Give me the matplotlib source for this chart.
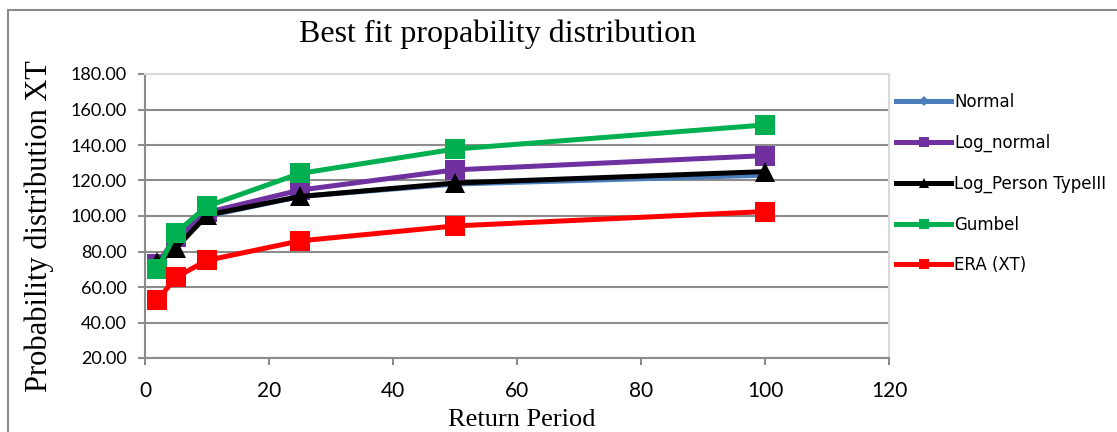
import matplotlib
matplotlib.use("Agg")
import matplotlib.pyplot as plt
from matplotlib.lines import Line2D
from matplotlib.patches import Rectangle
from matplotlib.ticker import FormatStrFormatter

# Return periods (years) and quantile estimates XT for each distribution
return_period = [2, 5, 10, 25, 50, 100]
normal = [74, 84, 100, 111, 118, 123]
log_normal = [73, 88, 102, 114.6, 126, 134]
log_pearson3 = [74, 82, 100.5, 111, 118.6, 125]
gumbel = [70, 90.5, 105.5, 124, 137.7, 151.3]
era_xt = [52.5, 65.5, 75, 86, 94.4, 102.5]

series_names = ["Normal", "Log_normal", "Log_Person TypeIII", "Gumbel", "ERA (XT)"]
series_values = [normal, log_normal, log_pearson3, gumbel, era_xt]
series_colors = ["#4A7EBB", "#7030A0", "#000000", "#00B050", "#FF0000"]
series_markers = ["D", "s", "^", "s", "s"]
series_msize = [6, 14, 14, 14, 14]

x_ticks = [0, 20, 40, 60, 80, 100, 120]
y_ticks = [20, 40, 60, 80, 100, 120, 140, 160, 180]

W, H = 1117, 432
fig = plt.figure(figsize=(W / 100, H / 100), dpi=100)
fig.patch.set_facecolor("white")

# outer chart border
fig.patches.append(Rectangle((8 / W, -0.1), 1.2, 1 - 10 / H + 0.1,
                             transform=fig.transFigure, fill=False,
                             edgecolor="#8C8C8C", linewidth=1.5, zorder=0))

ax = fig.add_axes([145 / W, 1 - 358 / H, (889 - 145) / W, (358 - 74) / H])

for name, vals, col, mk, ms in zip(series_names, series_values, series_colors,
                                   series_markers, series_msize):
    ax.plot(return_period, vals, color=col, linewidth=3.6, marker=mk,
            markersize=ms, markeredgewidth=0, label=name, clip_on=False)

ax.set_xlim(0, 120)
ax.set_ylim(20, 180)
ax.set_xticks(x_ticks)
ax.set_yticks(y_ticks)
ax.yaxis.set_major_formatter(FormatStrFormatter("%.2f"))

ax.grid(axis="y", color="#8C8C8C", linewidth=1.5)
ax.set_axisbelow(True)
for side in ("left", "bottom"):
    ax.spines[side].set_color("#8C8C8C")
    ax.spines[side].set_linewidth(1.5)
for side in ("top", "right"):
    ax.spines[side].set_color("#D9D9D9")
    ax.spines[side].set_linewidth(1.5)

ax.tick_params(axis="y", direction="out", length=5, width=1.5, color="#8C8C8C",
               labelsize=13, pad=8)
ax.tick_params(axis="x", direction="out", length=5, width=1.5, color="#8C8C8C",
               labelsize=15, pad=11.5)
for lab in ax.get_yticklabels() + ax.get_xticklabels():
    lab.set_fontfamily("Lato")

ax.set_ylabel("Probability distribution XT", fontfamily="Liberation Serif",
              fontsize=22)
ax.yaxis.set_label_coords((54 - 145) / (889 - 145), 0.5 - 10 / (358 - 74))
ax.set_xlabel("Return Period", fontfamily="Liberation Serif", fontsize=19)
ax.xaxis.set_label_coords((522 - 145) / (889 - 145), (358 - 409) / (358 - 74))

fig.text(498 / W, 1 - 34 / H, "Best fit propability distribution",
         fontfamily="Liberation Serif", fontsize=23, ha="center", va="center")

handles = [Line2D([], [], color=c, linewidth=3.6, marker=m,
                  markersize=(5 if m == "D" else 7), markeredgewidth=0)
           for c, m in zip(series_colors, series_markers)]
leg = fig.legend(handles, series_names, loc="upper left",
                 bbox_to_anchor=(896 / W, 1 - 93 / H), frameon=False,
                 prop={"family": "DejaVu Sans", "size": 12},
                 handlelength=3.3, handletextpad=0.2, labelspacing=1.36,
                 borderpad=0, borderaxespad=0)

fig.savefig("out.png", dpi=100)
